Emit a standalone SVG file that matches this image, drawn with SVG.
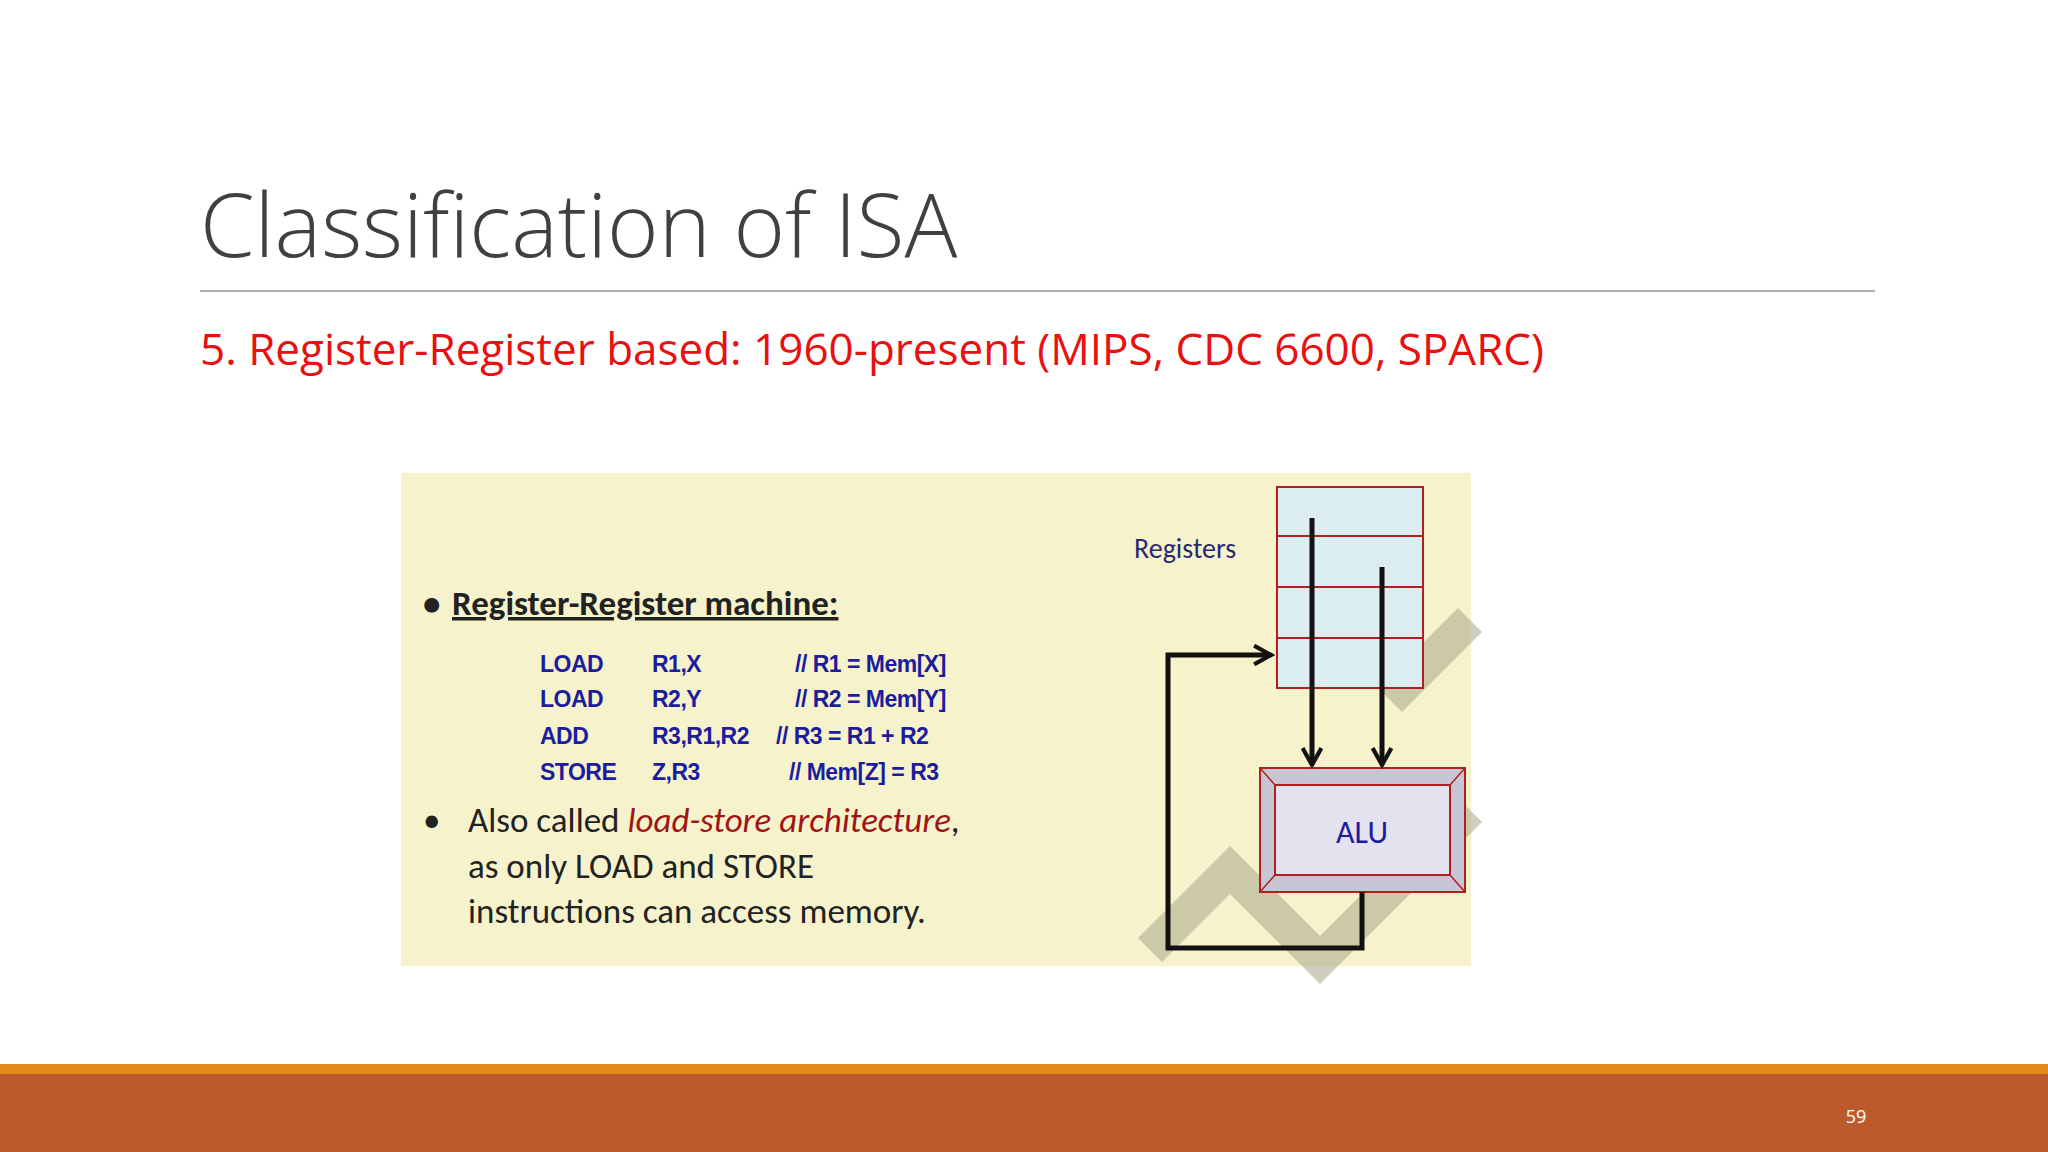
<svg xmlns="http://www.w3.org/2000/svg" width="2048" height="1152" viewBox="0 0 2048 1152">
<style>
.code{font-family:"Liberation Sans",Arial,sans-serif;font-size:23px;font-weight:bold;fill:#1c1c9c;letter-spacing:-0.5px}
.body{font-family:Calibri,"Open Sans","Liberation Sans",sans-serif;font-size:35px;fill:#222}
</style>
<defs>
<marker id="ah" viewBox="0 0 12 12" refX="10" refY="6" markerWidth="4.5" markerHeight="4.5" orient="auto" markerUnits="strokeWidth"><path d="M1,1 L10,6 L1,11" fill="none" stroke="#111" stroke-width="2.2"/></marker>
</defs>
<rect width="2048" height="1152" fill="#fff"/>
<text x="200" y="257" font-family="'Open Sans','Liberation Sans',sans-serif" font-size="88" font-weight="300" fill="#404040">Classification of ISA</text>
<line x1="200" y1="291" x2="1875" y2="291" stroke="#b0b0b0" stroke-width="2"/>
<text x="200" y="365" font-family="'Open Sans','Liberation Sans',sans-serif" font-size="44" fill="#e81010">5. Register-Register based: 1960-present (MIPS, CDC 6600, SPARC)</text>
<g id="panel">
<rect x="401" y="473" width="1070" height="493" fill="#f6f3cc"/>
<polyline points="1150,950 1230,870 1320,960 1470,810" fill="none" stroke="#a8a58a" stroke-width="34" opacity="0.55"/>
<polyline points="1390,700 1470,620" fill="none" stroke="#a8a58a" stroke-width="34" opacity="0.55"/>
<text x="423" y="615" class="body" font-weight="bold">•</text>
<text x="452" y="615" class="body" font-weight="bold" text-decoration="underline">Register-Register machine:</text>
<text x="540" y="672" class="code">LOAD</text><text x="652" y="672" class="code">R1,X</text><text x="795" y="672" class="code">// R1 = Mem[X]</text>
<text x="540" y="707" class="code">LOAD</text><text x="652" y="707" class="code">R2,Y</text><text x="795" y="707" class="code">// R2 = Mem[Y]</text>
<text x="540" y="744" class="code">ADD</text><text x="652" y="744" class="code">R3,R1,R2</text><text x="776" y="744" class="code">// R3 = R1 + R2</text>
<text x="540" y="780" class="code">STORE</text><text x="652" y="780" class="code">Z,R3</text><text x="789" y="780" class="code">// Mem[Z] = R3</text>
<text x="423" y="832" class="body">•</text>
<text x="468" y="832" class="body">Also called <tspan fill="#a01414" font-style="italic">load-store architecture</tspan>,</text>
<text x="468" y="878" class="body">as only LOAD and STORE</text>
<text x="468" y="923" class="body">instructions can access memory.</text>
</g>
<g id="registers">
<text x="1134" y="558" font-family="Calibri,'Open Sans','Liberation Sans',sans-serif" font-size="28" fill="#2a2a70">Registers</text>
<rect x="1277" y="487" width="146" height="201" fill="#dcedf2" stroke="#b02020" stroke-width="2"/>
<line x1="1277" y1="536" x2="1423" y2="536" stroke="#b02020" stroke-width="2"/>
<line x1="1277" y1="587" x2="1423" y2="587" stroke="#b02020" stroke-width="2"/>
<line x1="1277" y1="638" x2="1423" y2="638" stroke="#b02020" stroke-width="2"/>
</g>
<g id="alu">
<rect x="1260" y="768" width="205" height="124" fill="#c8c6d4" stroke="#b02020" stroke-width="2"/>
<rect x="1275" y="785" width="175" height="90" fill="#e4e2ee" stroke="#b02020" stroke-width="2"/>
<line x1="1260" y1="768" x2="1275" y2="785" stroke="#b02020" stroke-width="1.5"/>
<line x1="1465" y1="768" x2="1450" y2="785" stroke="#b02020" stroke-width="1.5"/>
<line x1="1260" y1="892" x2="1275" y2="875" stroke="#b02020" stroke-width="1.5"/>
<line x1="1465" y1="892" x2="1450" y2="875" stroke="#b02020" stroke-width="1.5"/>
<text x="1362" y="843" text-anchor="middle" font-family="Calibri,'Open Sans','Liberation Sans',sans-serif" font-size="32" fill="#1c1c9c">ALU</text>
</g>
<g id="connectors" fill="none" stroke="#111" stroke-width="5">
<line x1="1312" y1="518" x2="1312" y2="765" marker-end="url(#ah)"/>
<line x1="1382" y1="567" x2="1382" y2="765" marker-end="url(#ah)"/>
<polyline points="1362,892 1362,948 1168,948 1168,655 1271,655" marker-end="url(#ah)"/>
</g>
<rect x="0" y="1064" width="2048" height="10" fill="#e08a1e"/>
<rect x="0" y="1074" width="2048" height="78" fill="#bc5a2c"/>
<text x="1856" y="1123" text-anchor="middle" font-family="'Open Sans','Liberation Sans',sans-serif" font-size="18" fill="#fff">59</text>
</svg>
